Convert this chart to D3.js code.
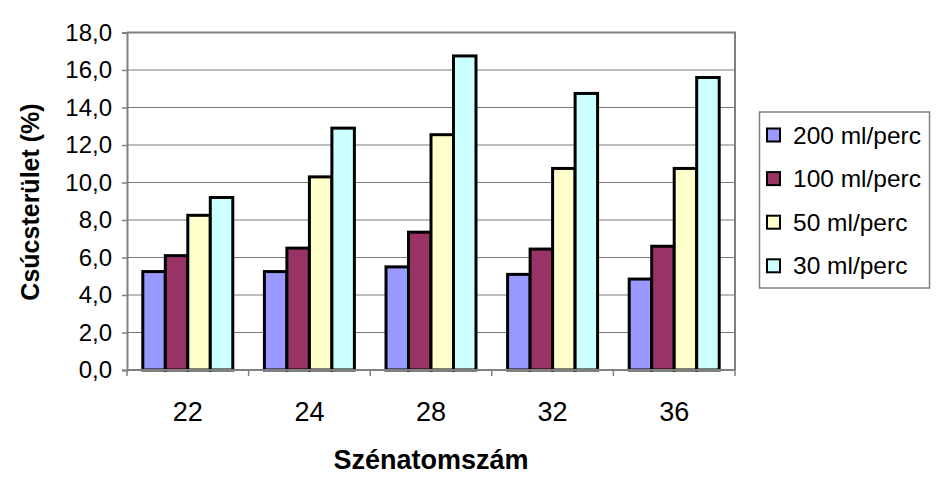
<!DOCTYPE html>
<html>
<head>
<meta charset="utf-8">
<script src="https://cdn.jsdelivr.net/npm/d3@7"></script>
<style>
  body { margin: 0; background: #fff; }
  svg { display: block; font-family: "Liberation Sans", Arial, sans-serif; }
</style>
</head>
<body>
<div id="chart"></div>
<script>
// Csúcsterület vs. szénatomszám, four flow rates
var categories = ['22', '24', '28', '32', '36'];
var seriesNames = ['200 ml/perc', '100 ml/perc', '50 ml/perc', '30 ml/perc'];
var s200 = [5.25, 5.25, 5.5, 5.1, 4.85];
var s100 = [6.1, 6.5, 7.35, 6.45, 6.6];
var s50 = [8.25, 10.3, 12.55, 10.75, 10.75];
var s30 = [9.2, 12.9, 16.75, 14.75, 15.6];
var yTicks = [0, 2, 4, 6, 8, 10, 12, 14, 16, 18];
var colors = ['#9999ff', '#993366', '#ffffcc', '#ccffff'];

var series = [s200, s100, s50, s30];
var W = 945, H = 482;
var pLeft = 127, pRight = 735, pTop = 32.5, pBottom = 370;

var svg = d3.select('#chart').append('svg').attr('width', W).attr('height', H);

var x0 = d3.scaleBand().domain(categories).range([pLeft, pRight]).paddingInner(0.26).paddingOuter(0.13);
var x1 = d3.scaleBand().domain(d3.range(series.length)).range([0, x0.bandwidth()]);
var y = d3.scaleLinear().domain([0, 18]).range([pBottom, pTop]);

// gridlines
svg.append('g').selectAll('line').data(yTicks.slice(1)).join('line')
  .attr('x1', pLeft).attr('x2', pRight)
  .attr('y1', function(d) { return y(d); }).attr('y2', function(d) { return y(d); })
  .attr('stroke', '#7a7a7a').attr('stroke-width', 1.2);

// plot border (right + top)
svg.append('path')
  .attr('d', 'M' + pLeft + ',' + pTop + 'H' + pRight + 'V' + pBottom)
  .attr('fill', 'none').attr('stroke', '#808080').attr('stroke-width', 2);

// bars
var groups = svg.append('g').selectAll('g').data(categories).join('g')
  .attr('transform', function(d) { return 'translate(' + x0(d) + ',0)'; });
groups.selectAll('rect').data(function(d, i) { return series.map(function(s, k) { return { k: k, v: s[i] }; }); })
  .join('rect')
  .attr('x', function(d) { return x1(d.k); })
  .attr('y', function(d) { return y(d.v); })
  .attr('width', x1.bandwidth())
  .attr('height', function(d) { return y(0) - y(d.v); })
  .attr('fill', function(d) { return colors[d.k]; })
  .attr('stroke', '#000').attr('stroke-width', 3);

// y axis
var yAxis = d3.axisLeft(y).tickValues(yTicks).tickSize(5).tickPadding(10)
  .tickFormat(function(d) { return d3.format('.1f')(d).replace('.', ','); });
var gy = svg.append('g').attr('transform', 'translate(' + pLeft + ',0)').call(yAxis);
gy.select('.domain').attr('stroke', '#808080').attr('stroke-width', 2);
gy.selectAll('.tick line').attr('stroke', '#808080').attr('stroke-width', 1.5);
gy.selectAll('.tick text').attr('font-size', '24px').attr('fill', '#000').attr('font-family', null);

// x axis: bottom line and boundary ticks
var step = x0.step();
svg.append('line').attr('x1', pLeft).attr('x2', pRight).attr('y1', pBottom).attr('y2', pBottom)
  .attr('stroke', '#808080').attr('stroke-width', 2);
svg.append('g').selectAll('line').data(d3.range(categories.length + 1)).join('line')
  .attr('x1', function(i) { return pLeft + i * step; }).attr('x2', function(i) { return pLeft + i * step; })
  .attr('y1', pBottom).attr('y2', pBottom + 6)
  .attr('stroke', '#808080').attr('stroke-width', 1.5);
svg.append('g').selectAll('text').data(categories).join('text')
  .attr('x', function(d) { return x0(d) + x0.bandwidth() / 2; })
  .attr('y', 421).attr('text-anchor', 'middle').attr('font-size', '27px').text(function(d) { return d; });

// axis titles
svg.append('text').attr('x', 431).attr('y', 469).attr('text-anchor', 'middle')
  .attr('font-size', '27px').attr('font-weight', 'bold').text('Szénatomszám');
svg.append('text').attr('transform', 'translate(39,202) rotate(-90)').attr('text-anchor', 'middle')
  .attr('font-size', '25px').attr('font-weight', 'bold').text('Csúcsterület (%)');

// legend
var lg = svg.append('g');
lg.append('rect').attr('x', 759.5).attr('y', 112).attr('width', 170).attr('height', 176)
  .attr('fill', '#fff').attr('stroke', '#808080').attr('stroke-width', 1.5);
var items = lg.selectAll('g').data(seriesNames).join('g')
  .attr('transform', function(d, i) { return 'translate(767,' + (135 + i * 43.6) + ')'; });
items.append('rect').attr('x', 0).attr('y', -6.5).attr('width', 13).attr('height', 13)
  .attr('fill', function(d, i) { return colors[i]; }).attr('stroke', '#000').attr('stroke-width', 2);
items.append('text').attr('x', 26).attr('y', 8.5).attr('font-size', '24.5px').text(function(d) { return d; });
</script>
</body>
</html>
